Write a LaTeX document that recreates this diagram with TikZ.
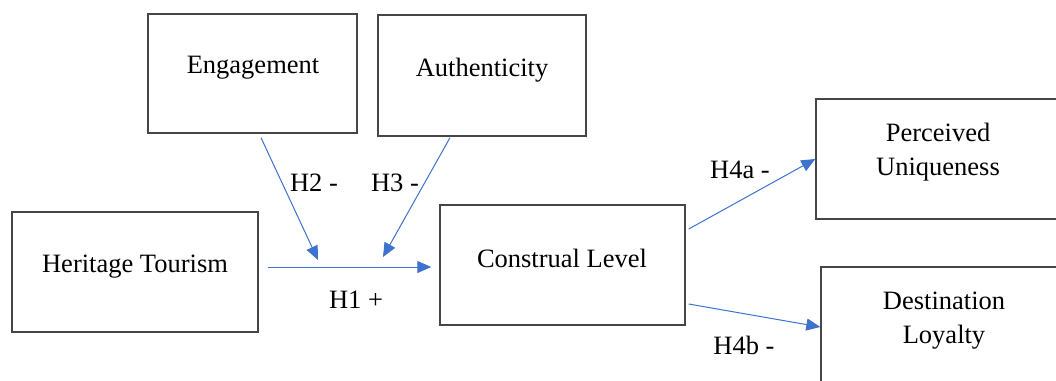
\documentclass[tikz,border=0pt]{standalone}
\usepackage{fontspec}
\setmainfont{Liberation Serif}
\usetikzlibrary{arrows.meta}
\definecolor{arrblue}{RGB}{62,114,204}
\definecolor{boxgray}{RGB}{70,70,70}
\tikzset{
  box/.style={draw=boxgray, line width=1.4pt, rectangle, inner sep=0pt},
  txt/.style={inner sep=0pt, align=center, font=\fontsize{26.5}{34}\selectfont},
  arr/.style={draw=arrblue, line width=1pt, -{Triangle[length=14pt,width=12pt]}, arrblue},
}
\begin{document}
\begin{tikzpicture}[x=1pt,y=-1pt]
\useasboundingbox (0,0) rectangle (1056,380);
\fill[white] (0,0) rectangle (1056,380);
\clip (0,0) rectangle (1056,380);
% boxes
\node[box, minimum width=209pt, minimum height=119pt] (eng) at (252.5,73.5) {};
\node[box, minimum width=208pt, minimum height=121pt] (aut) at (482,75.5) {};
\node[box, minimum width=246pt, minimum height=120pt] (her) at (135,272) {};
\node[box, minimum width=245pt, minimum height=120pt] (con) at (562.5,265) {};
\node[box, minimum width=244pt, minimum height=120pt] (pu) at (938,159) {};
\node[box, minimum width=246pt, minimum height=120pt] (dl) at (944,327) {};
% box texts
\node[txt] (engt) at (253,67.5) {Engagement};
\node[txt] (autt) at (482,70) {Authenticity};
\node[txt] (hert) at (135,266.5) {Heritage Tourism};
\node[txt] (cont) at (562,258) {Construal Level};
\node[txt] (put) at (938,152.5) {Perceived\\Uniqueness};
\node[txt] (dlt) at (944,320.5) {Destination\\Loyalty};
% free ends
\coordinate (m2) at (318,260);
\coordinate (m3) at (383,257);
% arrows
\draw[arr] ([xshift=8.5pt,yshift=-4pt]eng.south) -- (m2);
\draw[arr] ([xshift=-32pt,yshift=-1pt]aut.south) -- (m3);
\draw[arr] ([xshift=9pt,yshift=5pt]her.east) -- ([xshift=-8pt,yshift=-2pt]con.west);
\draw[arr] ([xshift=3pt,yshift=36pt]con.east) -- (pu.west);
\draw[arr] ([xshift=3pt,yshift=-39pt]con.east) -- (dl.west);
% labels
\node[txt] (h2) at (314,183) {H2 -};
\node[txt] (h3) at (395,183) {H3 -};
\node[txt] (h1) at (356,300) {H1 +};
\node[txt] (h4a) at (740,170) {H4a -};
\node[txt] (h4b) at (744,345) {H4b -};
\end{tikzpicture}
\end{document}
